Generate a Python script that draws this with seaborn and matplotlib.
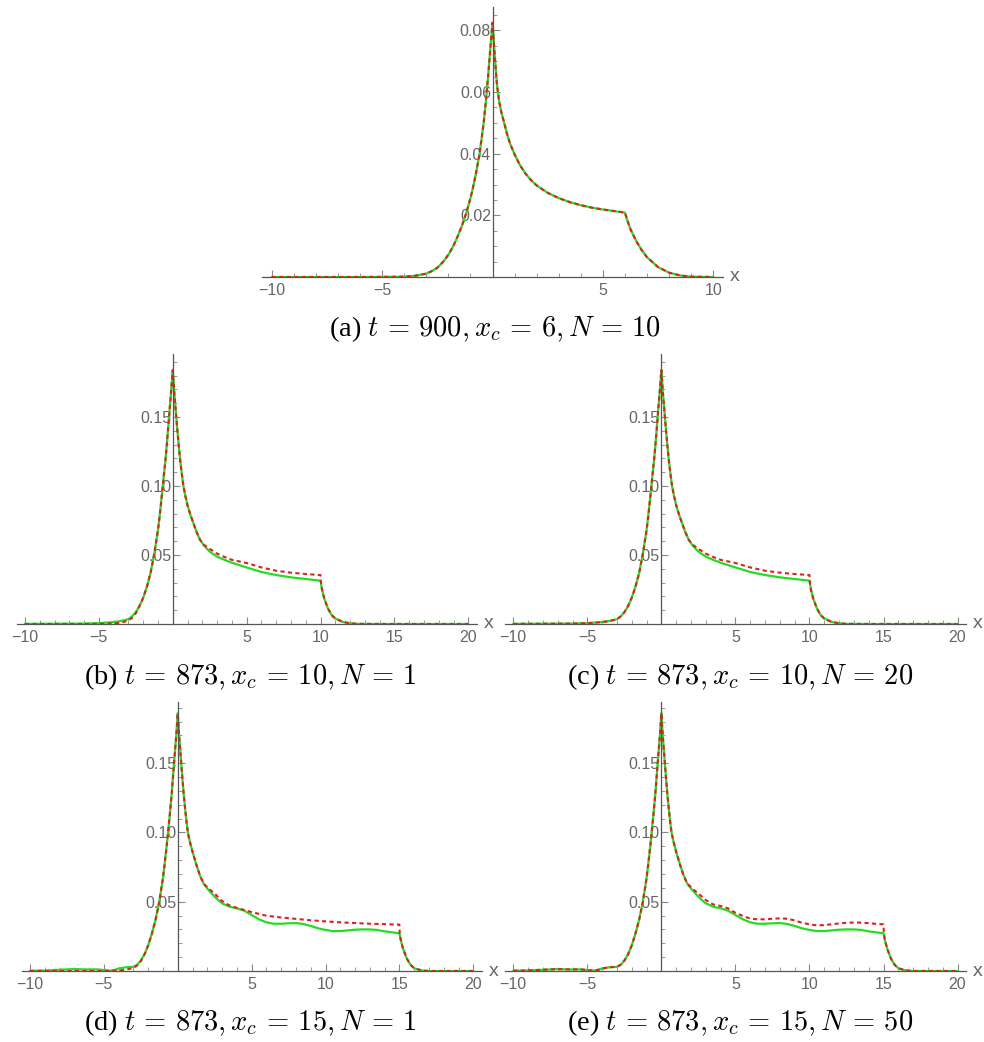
import numpy as np
import pandas as pd
import matplotlib
matplotlib.use("Agg")
import matplotlib.pyplot as plt
import seaborn as sns
from matplotlib.ticker import FixedLocator, MultipleLocator

sns.set_style("white")
plt.rcParams["font.family"] = ["Liberation Sans", "DejaVu Sans"]
plt.rcParams["mathtext.fontset"] = "cm"
plt.rcParams["axes.unicode_minus"] = True

GREEN = "#22dd22"
RED = "#e02020"
AXC = "#555555"
TXC = "#666666"

# ---------------- data ----------------
# panel (a): t=900, x_c=6, N=10 (both curves coincide)
xa = [-10, -8, -6, -5, -4.5, -4, -3.5, -3, -2.75, -2.5, -2.25, -2, -1.8, -1.6, -1.4, -1.2,
      -1, -0.9, -0.75, -0.6, -0.5, -0.4, -0.3, -0.2, -0.1, 0, 0.1, 0.2, 0.3, 0.4, 0.5, 0.65,
      0.8, 1, 1.25, 1.5, 1.75, 2, 2.5, 3, 3.5, 4, 4.5, 5, 5.5, 6, 6.1, 6.25, 6.5, 6.75, 7,
      7.5, 8, 8.5, 9, 10]
ya_green = [0, 0, 0, 0.00003, 0.00006, 0.0001, 0.0004, 0.0011, 0.0019, 0.003, 0.0048,
            0.0072, 0.0097, 0.0128, 0.0163, 0.0205, 0.0255, 0.0285, 0.0335, 0.0395, 0.0445,
            0.050, 0.057, 0.065, 0.074, 0.0825, 0.072, 0.0625, 0.057, 0.0535, 0.0508,
            0.0466, 0.0432, 0.0398, 0.0362, 0.0335, 0.0314, 0.0297, 0.0273, 0.0256, 0.0243,
            0.0233, 0.0225, 0.0219, 0.0214, 0.0209, 0.0185, 0.0155, 0.0118, 0.0088, 0.0064,
            0.0032, 0.0014, 0.0005, 0.0001, 0]
ya_red = list(ya_green)

# panels (b),(c): t=873, x_c=10
xb_green = [-10, -8, -6, -5, -4, -3.5, -3, -2.75, -2.5, -2.25, -2, -1.75, -1.5, -1.25, -1,
            -0.9, -0.75, -0.6, -0.5, -0.4, -0.25, -0.1, -0.05, 0, 0.05, 0.1, 0.2, 0.3, 0.4,
            0.5, 0.6, 0.72, 0.85, 1, 1.2, 1.4, 1.6, 1.85, 2.1, 2.5, 3, 3.5, 4, 5, 6, 7, 8, 9,
            10, 10.1, 10.25, 10.5, 10.75, 11, 11.5, 12, 12.5, 14, 20]
yb_green = [0.0001, 0.0002, 0.0003, 0.0006, 0.0014, 0.0022, 0.0035, 0.0055, 0.0085, 0.013,
            0.019, 0.027, 0.037, 0.051, 0.068, 0.077, 0.092, 0.108, 0.118, 0.13, 0.15, 0.17,
            0.177, 0.184, 0.176, 0.168, 0.155, 0.142, 0.13, 0.119, 0.11, 0.10, 0.093, 0.086,
            0.079, 0.073, 0.067, 0.061, 0.057, 0.0525, 0.0488, 0.0465, 0.0444, 0.041,
            0.0377, 0.0355, 0.0338, 0.0326, 0.0314, 0.025, 0.0186, 0.0113, 0.0065, 0.004,
            0.0015, 0.0005, 0.0001, 0, 0]
xb_red = [-10, -6, -5, -4, -3.5, -3, -2.75, -2.5, -2.25, -2, -1.75, -1.5, -1.25, -1, -0.9,
          -0.75, -0.6, -0.5, -0.4, -0.25, -0.1, -0.05, 0, 0.05, 0.1, 0.2, 0.3, 0.4, 0.5, 0.6,
          0.72, 0.85, 1, 1.2, 1.4, 1.6, 1.85, 2.1, 2.5, 3, 3.5, 4, 5, 6, 7, 8, 9, 10, 10.02,
          10.1, 10.25, 10.5, 10.75, 11, 11.5, 12, 12.5, 14, 20]
yb_red = [0, 0, 0.0001, 0.0004, 0.001, 0.0025, 0.0045, 0.0078, 0.013, 0.019, 0.027, 0.037,
          0.051, 0.068, 0.077, 0.092, 0.108, 0.118, 0.13, 0.15, 0.17, 0.177, 0.184, 0.176,
          0.168, 0.155, 0.142, 0.13, 0.119, 0.11, 0.10, 0.093, 0.086, 0.079, 0.073, 0.067,
          0.061, 0.0575, 0.0545, 0.051, 0.0486, 0.0465, 0.0442, 0.041, 0.0386, 0.0372,
          0.0362, 0.0355, 0.031, 0.025, 0.0186, 0.0113, 0.0065, 0.004, 0.0015, 0.0005,
          0.0001, 0, 0]
xc_red = [-10, -8, -6, -5, -4, -3.5, -3, -2.75, -2.5, -2.25, -2, -1.75, -1.5, -1.25, -1,
          -0.9, -0.75, -0.6, -0.5, -0.4, -0.25, -0.1, -0.05, 0, 0.05, 0.1, 0.2, 0.3, 0.4,
          0.5, 0.6, 0.72, 0.85, 1, 1.2, 1.4, 1.6, 1.85, 2.1, 2.5, 3, 3.5, 4, 5, 6, 7, 8, 9,
          10, 10.02, 10.1, 10.25, 10.5, 10.75, 11, 11.5, 12, 12.5, 14, 20]
yc_red = [0.0001, 0.0002, 0.0003, 0.0006, 0.0014, 0.0022, 0.0035, 0.0055, 0.0085, 0.013,
          0.019, 0.027, 0.037, 0.051, 0.068, 0.077, 0.092, 0.108, 0.118, 0.13, 0.15, 0.17,
          0.177, 0.184, 0.176, 0.168, 0.155, 0.142, 0.13, 0.119, 0.11, 0.10, 0.093, 0.086,
          0.079, 0.073, 0.067, 0.061, 0.0575, 0.0545, 0.051, 0.0486, 0.0465, 0.0442, 0.041,
          0.0386, 0.0372, 0.0362, 0.0355, 0.031, 0.025, 0.0186, 0.0113, 0.0065, 0.004,
          0.0015, 0.0005, 0.0001, 0, 0]

# panels (d),(e): t=873, x_c=15
xd_green = [-10, -9, -8, -7, -6.5, -6, -5.5, -5, -4.6, -4.2, -4, -3.5, -3, -2.75, -2.5, -2.25,
            -2, -1.75, -1.5, -1.25, -1, -0.9, -0.75, -0.6, -0.5, -0.4, -0.25, -0.1, -0.05, 0,
            0.05, 0.1, 0.2, 0.3, 0.4, 0.5, 0.6, 0.7, 0.85, 1, 1.25, 1.5, 1.75, 2, 2.25, 2.5,
            2.75, 3, 3.5, 4, 4.5, 5, 5.5, 6, 6.5, 7, 7.5, 8, 8.5, 9, 9.5, 10, 10.5, 11, 11.5,
            12, 12.5, 13, 13.5, 14, 14.5, 15, 15.1, 15.25, 15.5, 15.75, 16, 16.5, 17, 20]
yd_green = [0.0002, 0.0004, 0.0009, 0.0014, 0.0012, 0.0011, 0.0012, 0.0007, 0.0002, 0.001,
            0.0018, 0.0027, 0.003, 0.0045, 0.0075, 0.012, 0.0185, 0.027, 0.037, 0.05, 0.067,
            0.076, 0.09, 0.106, 0.117, 0.129, 0.15, 0.17, 0.178, 0.186, 0.177, 0.169, 0.155,
            0.141, 0.128, 0.117, 0.107, 0.099, 0.092, 0.086, 0.077, 0.069, 0.063, 0.0595,
            0.0565, 0.0536, 0.051, 0.0488, 0.0464, 0.0452, 0.0435, 0.0404, 0.0373, 0.0351,
            0.0341, 0.0341, 0.0344, 0.0346, 0.0339, 0.0325, 0.0308, 0.0296, 0.0288, 0.0288,
            0.0293, 0.0298, 0.03, 0.03, 0.0296, 0.0286, 0.0279, 0.0272, 0.022, 0.016, 0.009,
            0.0045, 0.002, 0.0004, 0, 0]
xd_red = [-10, -5, -4, -3.5, -3, -2.75, -2.5, -2.25, -2, -1.75, -1.5, -1.25, -1, -0.9, -0.75,
          -0.6, -0.5, -0.4, -0.25, -0.1, -0.05, 0, 0.05, 0.1, 0.2, 0.3, 0.4, 0.5, 0.6, 0.7,
          0.85, 1, 1.25, 1.5, 1.75, 2, 2.25, 2.5, 2.75, 3, 3.5, 4, 4.5, 5, 6, 7, 8, 9, 10, 11,
          12, 13, 14, 15, 15.02, 15.1, 15.25, 15.5, 15.75, 16, 16.5, 17, 20]
yd_red = [0, 0, 0.0003, 0.001, 0.0022, 0.004, 0.007, 0.012, 0.0185, 0.027, 0.037, 0.05,
          0.067, 0.076, 0.09, 0.106, 0.117, 0.129, 0.15, 0.17, 0.178, 0.186, 0.177, 0.169,
          0.155, 0.141, 0.128, 0.117, 0.107, 0.099, 0.092, 0.086, 0.077, 0.069, 0.063,
          0.0605, 0.058, 0.056, 0.053, 0.0505, 0.0473, 0.0455, 0.044, 0.0425, 0.0399,
          0.0386, 0.0376, 0.0366, 0.0358, 0.0351, 0.0346, 0.0341, 0.0338, 0.0335, 0.0272,
          0.022, 0.016, 0.009, 0.0045, 0.002, 0.0004, 0, 0]
xe_red = [-10, -9, -8, -7, -6.5, -6, -5.5, -5, -4.6, -4.2, -4, -3.5, -3, -2.75, -2.5, -2.25,
          -2, -1.75, -1.5, -1.25, -1, -0.9, -0.75, -0.6, -0.5, -0.4, -0.25, -0.1, -0.05, 0,
          0.05, 0.1, 0.2, 0.3, 0.4, 0.5, 0.6, 0.7, 0.85, 1, 1.25, 1.5, 1.75, 2, 2.25, 2.5,
          2.75, 3, 3.5, 4, 4.5, 5, 5.5, 6, 6.5, 7, 7.5, 8, 8.5, 9, 9.5, 10, 10.5, 11, 11.5,
          12, 12.5, 13, 13.5, 14, 14.5, 15, 15.02, 15.1, 15.25, 15.5, 15.75, 16, 16.5, 17, 20]
ye_red = [0.0002, 0.0004, 0.0009, 0.0014, 0.0012, 0.0011, 0.0012, 0.0007, 0.0002, 0.001,
          0.0018, 0.0027, 0.003, 0.0045, 0.0075, 0.012, 0.0185, 0.027, 0.037, 0.05, 0.067,
          0.076, 0.09, 0.106, 0.117, 0.129, 0.15, 0.17, 0.178, 0.186, 0.177, 0.169, 0.155,
          0.141, 0.128, 0.117, 0.107, 0.099, 0.092, 0.086, 0.077, 0.069, 0.063, 0.0605,
          0.058, 0.056, 0.0535, 0.0512, 0.048, 0.0469, 0.0452, 0.042, 0.0397, 0.0378,
          0.0373, 0.0373, 0.0377, 0.038, 0.0377, 0.0365, 0.0348, 0.0337, 0.0329, 0.0331,
          0.0337, 0.0343, 0.0348, 0.035, 0.0349, 0.0345, 0.034, 0.0337, 0.0272, 0.022,
          0.016, 0.009, 0.0045, 0.002, 0.0004, 0, 0]

captions = [r"(a) $t \,=\, 900, x_c \,=\, 6, N \,=\, 10$",
            r"(b) $t \,=\, 873, x_c \,=\, 10, N \,=\, 1$",
            r"(c) $t \,=\, 873, x_c \,=\, 10, N \,=\, 20$",
            r"(d) $t \,=\, 873, x_c \,=\, 15, N \,=\, 1$",
            r"(e) $t \,=\, 873, x_c \,=\, 15, N \,=\, 50$"]

# ---------------- figure ----------------
W, H = 984, 1042
fig = plt.figure(figsize=(W / 100, H / 100), dpi=100)


def add_ax(left, right, top, bottom):
    return fig.add_axes([left / W, 1 - bottom / H, (right - left) / W, (bottom - top) / H])


def style(ax, xlim, ylim, xmaj, ymaj, ymin_step, ylabels):
    ax.set_xlim(*xlim)
    ax.set_ylim(*ylim)
    for s in ["top", "right"]:
        ax.spines[s].set_visible(False)
    ax.spines["left"].set_position(("data", 0))
    ax.spines["bottom"].set_position(("data", 0))
    for s in ["left", "bottom"]:
        ax.spines[s].set_color(AXC)
        ax.spines[s].set_linewidth(0.9)
    ax.xaxis.set_major_locator(FixedLocator(xmaj))
    ax.set_xticklabels([("\u2212" + str(-v)) if v < 0 else str(v) for v in xmaj])
    ax.xaxis.set_minor_locator(MultipleLocator(1))
    ax.yaxis.set_major_locator(FixedLocator(ymaj))
    ax.set_yticklabels(ylabels)
    ax.yaxis.set_minor_locator(MultipleLocator(ymin_step))
    ax.tick_params(axis="both", which="both", bottom=True, left=True, top=False, right=False)
    ax.tick_params(axis="both", which="major", direction="in", length=5, width=0.8,
                   color="#888888", labelcolor=TXC, labelsize=11.5)
    ax.tick_params(axis="both", which="minor", direction="in", length=3, width=0.7,
                   color="#999999")
    ax.tick_params(axis="x", which="major", pad=4)
    ax.tick_params(axis="y", which="major", pad=1)
    ax.set_xlabel("")
    ax.set_ylabel("")
    ax.annotate("x", xy=(1, 0), xycoords=("axes fraction", "data"), xytext=(5, 0),
                textcoords="offset points", va="center", ha="left", color=TXC, fontsize=14)
    ax.patch.set_alpha(0)


def draw(ax, xg, yg, xr, yr):
    sns.lineplot(x=xg, y=yg, ax=ax, color=GREEN, lw=1.6, estimator=None, sort=False)
    sns.lineplot(x=xr, y=yr, ax=ax, color=RED, lw=1.5, estimator=None, sort=False,
                 linestyle=(0, (2, 1.6)))


panels = [
    (add_ax(262, 723, 6.7, 277), xa, ya_green, xa, ya_red, (-10.44, 10.44), (0, 0.0877),
     [-10, -5, 5, 10], [0.02, 0.04, 0.06, 0.08], 0.005, ["0.02", "0.04", "0.06", "0.08"]),
    (add_ax(16.7, 476.7, 354, 624), xb_green, yb_green, xb_red, yb_red, (-10.56, 20.57),
     (0, 0.1957), [-10, -5, 5, 10, 15, 20], [0.05, 0.10, 0.15], 0.01, ["0.05", "0.10", "0.15"]),
    (add_ax(505, 966, 354, 624), xb_green, yb_green, xc_red, yc_red, (-10.56, 20.57),
     (0, 0.1957), [-10, -5, 5, 10, 15, 20], [0.05, 0.10, 0.15], 0.01, ["0.05", "0.10", "0.15"]),
    (add_ax(21.7, 481.7, 701.7, 971), xd_green, yd_green, xd_red, yd_red, (-10.56, 20.57),
     (0, 0.1943), [-10, -5, 5, 10, 15, 20], [0.05, 0.10, 0.15], 0.01, ["0.05", "0.10", "0.15"]),
    (add_ax(505, 966, 701.7, 971), xd_green, yd_green, xe_red, ye_red, (-10.56, 20.57),
     (0, 0.1943), [-10, -5, 5, 10, 15, 20], [0.05, 0.10, 0.15], 0.01, ["0.05", "0.10", "0.15"]),
]

for ax, xg, yg, xr, yr, xl, yl, xm, ym, ymin, ylab in panels:
    draw(ax, xg, yg, xr, yr)
    style(ax, xl, yl, xm, ym, ymin, ylab)
    leg = ax.get_legend()
    if leg is not None:
        leg.remove()

cap_pos = [(495, 329), (250, 677), (740, 677), (250, 1023), (740, 1023)]
for txt, (cx, cy) in zip(captions, cap_pos):
    fig.text(cx / W, 1 - cy / H, txt, ha="center", va="center", fontsize=20.5,
             family="Liberation Serif", color="black")

fig.savefig("out.png", dpi=100)
